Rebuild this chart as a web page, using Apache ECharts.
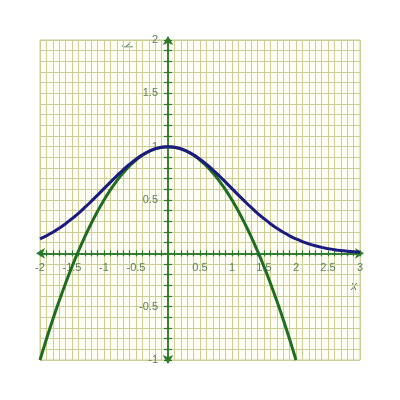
<!DOCTYPE html>
<html>
<head>
<meta charset="utf-8">
<script src="https://cdn.jsdelivr.net/npm/echarts@6/dist/echarts.min.js"></script>
<style>
  html, body { margin: 0; padding: 0; background: #fff; }
  #main { width: 400px; height: 400px; }
</style>
</head>
<body>
<div id="main"></div>
<script>
// x positions where the curves were read (step 0.1)
const xs = [-2.0, -1.9, -1.8, -1.7, -1.6, -1.5, -1.4, -1.3, -1.2, -1.1,
  -1.0, -0.9, -0.8, -0.7, -0.6, -0.5, -0.4, -0.3, -0.2, -0.1,
  0.0, 0.1, 0.2, 0.3, 0.4, 0.5, 0.6, 0.7, 0.8, 0.9,
  1.0, 1.1, 1.2, 1.3, 1.4, 1.5, 1.6, 1.7, 1.8, 1.9,
  2.0, 2.1, 2.2, 2.3, 2.4, 2.5, 2.6, 2.7, 2.8, 2.9, 3.0];

// blue bell curve, -2 .. 3
const blueY = [0.135, 0.164, 0.198, 0.236, 0.278, 0.325, 0.375, 0.430, 0.487, 0.546,
  0.607, 0.667, 0.726, 0.783, 0.835, 0.882, 0.923, 0.956, 0.980, 0.995,
  1.000, 0.995, 0.980, 0.956, 0.923, 0.882, 0.835, 0.783, 0.726, 0.667,
  0.607, 0.546, 0.487, 0.430, 0.375, 0.325, 0.278, 0.236, 0.198, 0.164,
  0.135, 0.110, 0.089, 0.071, 0.056, 0.044, 0.034, 0.026, 0.020, 0.015, 0.011];

// green parabola, -2 .. 2
const greenY = [-1.000, -0.805, -0.620, -0.445, -0.280, -0.125, 0.020, 0.155, 0.280, 0.395,
  0.500, 0.595, 0.680, 0.755, 0.820, 0.875, 0.920, 0.955, 0.980, 0.995,
  1.000, 0.995, 0.980, 0.955, 0.920, 0.875, 0.820, 0.755, 0.680, 0.595,
  0.500, 0.395, 0.280, 0.155, 0.020, -0.125, -0.280, -0.445, -0.620, -0.805, -1.000];

const xLabels = [-2, -1.5, -1, -0.5, 0.5, 1, 1.5, 2, 2.5, 3];
const yLabels = [-1, -0.5, 0.5, 1, 1.5, 2];

const X_MIN = -2, X_MAX = 3, Y_MIN = -1, Y_MAX = 2;
const GRID = { left: 40, top: 40, width: 320, height: 320 };

const gridColor = '#cdcd96';
const axisColor = '#2a7a2a';
const labelColor = '#5a805a';

// shift the axes from the grid edge onto the zero lines
const xOffset = -GRID.height * (0 - Y_MIN) / (Y_MAX - Y_MIN);
const yOffset = -GRID.width * (0 - X_MIN) / (X_MAX - X_MIN);

function labelFor(list) {
  return function (v) {
    for (const l of list) {
      if (Math.abs(v - l) < 1e-6) return String(l);
    }
    return '';
  };
}

const myChart = echarts.init(document.getElementById('main'));

function xAxisOf(inside) {
  return {
    type: 'value', min: X_MIN, max: X_MAX, interval: 0.1,
    position: 'bottom', offset: xOffset,
    axisLine: {
      show: true, onZero: false,
      symbol: inside ? 'none' : ['arrow', 'arrow'], symbolSize: [8, 9], symbolOffset: [-4, 4],
      lineStyle: { color: axisColor, width: 1.5 }
    },
    axisTick: { show: true, inside: inside, length: 3, lineStyle: { color: axisColor, width: 1.2 } },
    splitLine: { show: !inside, lineStyle: { color: gridColor, width: 1 } },
    axisLabel: {
      show: !inside, formatter: labelFor(xLabels), color: labelColor, fontSize: 11,
      fontFamily: 'Liberation Sans', margin: 9, showMinLabel: true, showMaxLabel: true
    }
  };
}

function yAxisOf(inside) {
  return {
    type: 'value', min: Y_MIN, max: Y_MAX, interval: 0.1,
    position: 'left', offset: yOffset,
    axisLine: {
      show: true, onZero: false,
      symbol: inside ? 'none' : ['arrow', 'arrow'], symbolSize: [8, 9], symbolOffset: [-4, 4],
      lineStyle: { color: axisColor, width: 1.5 }
    },
    axisTick: { show: true, inside: inside, length: 4, lineStyle: { color: axisColor, width: 1.2 } },
    splitLine: { show: !inside, lineStyle: { color: gridColor, width: 1 } },
    axisLabel: {
      show: !inside, formatter: labelFor(yLabels), color: labelColor, fontSize: 11,
      fontFamily: 'Liberation Sans', margin: 10, showMinLabel: true, showMaxLabel: true
    }
  };
}

const option = {
  animation: false,
  grid: Object.assign({
    show: true, backgroundColor: '#fefef4', borderColor: gridColor, borderWidth: 1
  }, GRID),
  xAxis: [xAxisOf(false), xAxisOf(true)],
  yAxis: [yAxisOf(false), yAxisOf(true)],
  graphic: [
    { type: 'text', left: 351, top: 281, style: { text: 'x', fill: labelColor, font: 'italic 12px Liberation Sans' } },
    { type: 'text', left: 122, top: 40, rotation: -Math.PI / 3, style: { text: 'y', fill: labelColor, font: 'italic 12px Liberation Sans' } }
  ],
  series: [
    {
      name: 'green', type: 'line', smooth: true, showSymbol: false, symbol: 'none',
      lineStyle: { color: '#1f6e1f', width: 3 },
      data: greenY.map((y, i) => [xs[i], y]),
      z: 3
    },
    {
      name: 'blue', type: 'line', smooth: true, showSymbol: false, symbol: 'none',
      lineStyle: { color: '#1b1b82', width: 3 },
      data: xs.map((x, i) => [x, blueY[i]]),
      z: 4
    }
  ]
};

myChart.setOption(option);
</script>
</body>
</html>
